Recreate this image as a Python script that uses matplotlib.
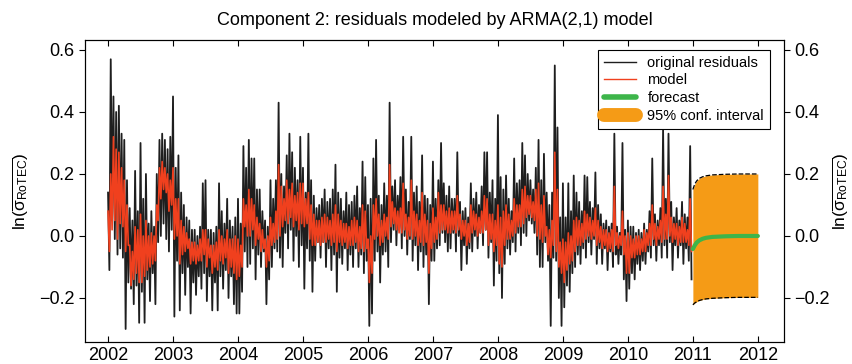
import numpy as np
import matplotlib.pyplot as plt
from matplotlib.lines import Line2D

plt.rcParams['font.family'] = ['Liberation Sans', 'DejaVu Sans']
plt.rcParams['mathtext.fontset'] = 'custom'
plt.rcParams['mathtext.rm'] = 'Liberation Sans'
plt.rcParams['mathtext.it'] = 'Liberation Sans'

# ── residuals (black) and ARMA(2,1) model (red), 4 samples per month ──
res_2002 = [0.14, -0.11, 0.57, 0.05, 0.45, -0.01, 0.40, -0.06, 0.42, -0.04, 0.33, -0.07,
            0.31, -0.30, 0.18, -0.15, 0.09, -0.17, 0.05, -0.22, 0.21, -0.16, 0.08, -0.28,
            0.30, -0.18, 0.12, -0.28, 0.20, -0.14, 0.04, -0.21, 0.08, -0.12, 0.03, -0.22,
            0.20, -0.02, 0.31, 0.00, 0.33, 0.04, 0.31, -0.01, 0.28, -0.05, 0.32, 0.02]
res_2003 = [0.45, -0.26, 0.22, -0.08, 0.26, -0.24, 0.14, -0.12, 0.10, -0.19, 0.06, -0.10,
            0.05, -0.25, 0.02, -0.15, 0.02, -0.19, 0.00, -0.13, 0.03, -0.17, 0.17, -0.12,
            0.18, -0.21, 0.02, -0.13, 0.02, -0.24, 0.01, -0.15, 0.03, -0.24, 0.17, -0.13,
            0.08, -0.17, 0.04, -0.11, 0.12, -0.20, 0.05, -0.13, 0.03, -0.22, 0.06, -0.25]
res_2004 = [0.12, -0.25, 0.04, -0.18, 0.29, -0.05, 0.22, -0.10, 0.31, -0.09, 0.25, -0.04,
            0.25, -0.14, 0.15, -0.06, 0.15, -0.10, 0.08, -0.05, 0.05, -0.22, 0.03, -0.14,
            0.18, -0.10, 0.12, -0.04, 0.18, -0.05, 0.43, -0.07, 0.20, -0.10, 0.16, 0.01,
            0.26, -0.04, 0.33, 0.02, 0.27, -0.08, 0.22, 0.00, 0.18, -0.10, 0.32, -0.03]
res_2005 = [0.22, -0.17, 0.14, -0.04, 0.33, -0.08, 0.18, -0.18, 0.13, -0.08, 0.09, -0.02,
            0.10, -0.07, 0.12, -0.02, 0.15, -0.10, 0.11, -0.04, 0.12, -0.11, 0.15, -0.06,
            0.23, -0.18, 0.14, -0.07, 0.12, -0.09, 0.08, -0.04, 0.14, -0.11, 0.10, -0.06,
            0.11, -0.10, 0.13, -0.04, 0.16, -0.10, 0.09, -0.06, 0.24, -0.12, 0.19, -0.08]
res_2006 = [0.10, -0.29, 0.12, -0.25, 0.25, -0.08, 0.31, -0.05, 0.13, -0.15, 0.10, -0.06,
            0.17, -0.05, 0.13, -0.10, 0.43, -0.02, 0.16, 0.02, 0.18, -0.03, 0.13, 0.02,
            0.19, -0.04, 0.32, 0.00, 0.15, -0.06, 0.11, -0.01, 0.32, -0.08, 0.14, -0.03,
            0.16, -0.11, 0.11, -0.05, 0.26, -0.10, 0.13, -0.06, 0.12, -0.22, 0.10, -0.08]
res_2007 = [0.24, -0.08, 0.12, -0.04, 0.18, -0.03, 0.30, 0.01, 0.17, -0.02, 0.13, -0.05,
            0.16, -0.04, 0.12, 0.01, 0.12, -0.05, 0.27, 0.00, 0.11, -0.11, 0.08, -0.03,
            0.09, -0.09, 0.06, -0.04, 0.17, -0.05, 0.12, 0.00, 0.14, -0.04, 0.10, 0.01,
            0.16, -0.03, 0.27, 0.02, 0.27, -0.07, 0.14, -0.02, 0.18, -0.16, 0.12, -0.08]
res_2008 = [0.39, -0.12, 0.19, -0.20, 0.15, -0.09, 0.195, -0.04, 0.12, -0.06, 0.08, -0.02,
            0.25, -0.05, 0.17, 0.01, 0.18, -0.03, 0.30, 0.01, 0.26, 0.00, 0.20, 0.05,
            0.18, 0.04, 0.15, 0.01, 0.22, -0.06, 0.31, -0.10, 0.18, -0.10, 0.265, -0.02,
            0.14, -0.08, 0.10, -0.29, 0.14, -0.07, 0.55, -0.08, 0.35, -0.20, 0.06, -0.29]
res_2009 = [0.17, -0.23, 0.06, -0.16, 0.17, -0.18, 0.08, -0.12, 0.195, -0.10, 0.14, -0.06,
            0.11, -0.09, 0.08, -0.04, 0.195, -0.07, 0.19, -0.02, 0.11, -0.06, 0.09, -0.01,
            0.205, -0.09, 0.10, -0.04, 0.07, -0.09, 0.04, -0.04, 0.05, -0.11, 0.03, -0.05,
            0.04, -0.10, 0.33, -0.06, 0.03, -0.09, 0.01, -0.06, 0.30, -0.14, 0.02, -0.21]
res_2010 = [0.05, -0.17, 0.03, -0.12, 0.03, -0.14, 0.01, -0.09, 0.02, -0.11, 0.01, -0.08,
            0.04, -0.09, 0.02, -0.05, 0.08, -0.07, 0.25, -0.03, 0.07, -0.08, 0.05, -0.03,
            0.09, -0.07, 0.345, -0.03, 0.12, -0.07, 0.33, -0.02, 0.11, -0.11, 0.06, -0.03,
            0.09, -0.07, 0.05, -0.03, 0.11, -0.09, 0.07, -0.04, 0.06, -0.08, 0.29, -0.14]

mod_2002 = [0.08, -0.05, 0.20, 0.02, 0.32, 0.05, 0.28, -0.01, 0.27, 0.04, 0.22, 0.03,
            0.18, -0.05, 0.10, -0.03, -0.03, -0.16, -0.05, -0.14, 0.03, -0.12, 0.02, -0.15,
            0.07, -0.15, 0.00, -0.13, 0.05, -0.11, 0.00, -0.10, 0.01, -0.09, 0.00, -0.08,
            0.10, 0.05, 0.22, 0.12, 0.24, 0.15, 0.22, 0.14, 0.20, 0.08, 0.18, 0.10]
mod_2003 = [0.22, -0.01, 0.12, 0.00, 0.12, -0.09, 0.05, -0.06, 0.03, -0.05, 0.01, -0.04,
            -0.01, -0.09, -0.02, -0.08, -0.02, -0.09, -0.03, -0.08, -0.01, -0.08, 0.02, -0.06,
            0.02, -0.10, -0.01, -0.07, -0.03, -0.12, -0.03, -0.10, -0.02, -0.11, 0.02, -0.08,
            0.00, -0.09, -0.01, -0.07, 0.02, -0.12, -0.01, -0.10, -0.01, -0.12, 0.00, -0.14]
mod_2004 = [-0.01, -0.13, -0.03, -0.10, 0.12, 0.03, 0.10, 0.00, 0.15, 0.00, 0.12, 0.02,
            0.10, -0.03, 0.06, -0.01, 0.04, -0.05, 0.02, -0.04, -0.01, -0.10, 0.00, -0.08,
            0.06, -0.03, 0.04, -0.02, 0.08, -0.01, 0.23, 0.00, 0.16, 0.03, 0.12, 0.05,
            0.18, 0.04, 0.15, 0.06, 0.17, 0.03, 0.13, 0.05, 0.14, 0.02, 0.17, 0.04]
mod_2005 = [0.17, 0.03, 0.12, 0.04, 0.14, -0.01, 0.10, -0.03, 0.07, -0.03, 0.05, -0.02,
            0.05, -0.03, 0.06, -0.02, 0.07, -0.02, 0.06, -0.01, 0.05, -0.03, 0.07, -0.02,
            0.10, -0.05, 0.07, -0.02, 0.05, -0.03, 0.04, -0.02, 0.04, -0.04, 0.03, -0.03,
            0.05, -0.03, 0.06, -0.02, 0.05, -0.05, 0.03, -0.04, 0.10, -0.05, 0.08, -0.04]
mod_2006 = [-0.01, -0.15, 0.00, -0.12, 0.10, -0.01, 0.12, 0.00, 0.07, -0.03, 0.05, -0.02,
            0.07, 0.00, 0.06, -0.01, 0.23, 0.03, 0.11, 0.04, 0.09, 0.02, 0.08, 0.01,
            0.09, 0.01, 0.17, 0.02, 0.07, -0.01, 0.06, 0.00, 0.18, -0.01, 0.08, 0.00,
            0.07, -0.03, 0.05, -0.02, 0.14, -0.03, 0.07, -0.02, 0.05, -0.12, 0.04, -0.04]
mod_2007 = [0.09, -0.02, 0.06, -0.01, 0.14, 0.01, 0.10, 0.02, 0.10, 0.02, 0.08, 0.01,
            0.09, 0.01, 0.08, 0.02, 0.08, 0.01, 0.13, 0.02, 0.07, -0.01, 0.05, 0.00,
            0.05, -0.03, 0.04, -0.02, 0.10, 0.01, 0.08, 0.02, 0.07, 0.00, 0.06, 0.01,
            0.08, 0.01, 0.13, 0.02, 0.12, -0.03, 0.07, -0.01, 0.07, -0.05, 0.05, -0.03]
mod_2008 = [0.10, -0.09, 0.06, -0.10, 0.08, -0.03, 0.10, -0.01, 0.07, -0.01, 0.05, 0.00,
            0.12, 0.01, 0.10, 0.03, 0.10, 0.03, 0.15, 0.04, 0.16, 0.06, 0.13, 0.07,
            0.13, 0.06, 0.11, 0.05, 0.15, 0.00, 0.17, -0.01, 0.10, -0.02, 0.13, 0.00,
            0.03, -0.06, 0.02, -0.07, 0.05, -0.03, 0.27, -0.05, 0.15, -0.10, -0.02, -0.12]
mod_2009 = [-0.01, -0.15, -0.02, -0.11, 0.01, -0.09, 0.00, -0.08, 0.05, -0.05, 0.06, -0.03,
            0.05, -0.03, 0.04, -0.02, 0.08, -0.01, 0.07, 0.00, 0.06, -0.01, 0.05, 0.00,
            0.09, -0.03, 0.05, -0.02, 0.03, -0.04, 0.02, -0.03, 0.02, -0.05, 0.01, -0.04,
            0.02, -0.05, 0.16, -0.03, 0.01, -0.04, 0.00, -0.03, 0.08, -0.06, 0.00, -0.12]
mod_2010 = [0.01, -0.12, 0.00, -0.07, -0.01, -0.07, 0.00, -0.06, 0.00, -0.06, -0.01, -0.05,
            0.02, -0.05, 0.01, -0.03, 0.04, -0.03, 0.10, -0.01, 0.04, -0.03, 0.03, -0.01,
            0.05, -0.02, 0.16, -0.01, 0.07, -0.01, 0.195, 0.00, 0.06, -0.02, 0.04, -0.01,
            0.04, -0.03, 0.03, -0.02, 0.06, -0.02, 0.04, -0.02, 0.02, -0.03, 0.12, -0.05]

# ── forecast for 2011 ──
fc_years = [2011.0, 2011.03, 2011.06, 2011.1, 2011.15, 2011.2, 2011.3, 2011.4, 2011.5, 2011.7, 2012.0]
fc_mean = [-0.042, -0.030, -0.021, -0.014, -0.009, -0.006, -0.003, -0.002, -0.001, 0.0, 0.0]
fc_upper = [0.150, 0.168, 0.178, 0.186, 0.191, 0.194, 0.197, 0.198, 0.199, 0.200, 0.200]
fc_lower = [-0.222, -0.216, -0.212, -0.208, -0.205, -0.203, -0.201, -0.200, -0.199, -0.198, -0.198]

year_ticks = list(range(2002, 2013))
y_ticks = [-0.2, 0.0, 0.2, 0.4, 0.6]
y_labels = ['\u22120.2', '0.0', '0.2', '0.4', '0.6']

residuals = np.concatenate([res_2002, res_2003, res_2004, res_2005, res_2006,
                            res_2007, res_2008, res_2009, res_2010])
model = np.concatenate([mod_2002, mod_2003, mod_2004, mod_2005, mod_2006,
                        mod_2007, mod_2008, mod_2009, mod_2010])
t = 2002 + np.arange(len(residuals)) / 48

c_black, c_red, c_green, c_orange = '#1e1e1e', '#f0401e', '#3db54a', '#f59b16'

fig, ax = plt.subplots(figsize=(8.52, 3.64), dpi=100)
fig.subplots_adjust(left=0.0998, right=0.920, bottom=0.0604, top=0.890)

ax.plot(t, residuals, color=c_black, lw=1.3)
ax.plot(t, model, color=c_red, lw=1.2)
ax.fill_between(fc_years, fc_lower, fc_upper, color=c_orange, lw=0)
ax.plot(fc_years, fc_upper, color='k', ls='--', lw=0.9)
ax.plot(fc_years, fc_lower, color='k', ls='--', lw=0.9)
ax.plot(fc_years, fc_mean, color=c_green, lw=3, solid_capstyle='round')

ax.set_xlim(2001.646, 2012.4)
ax.set_ylim(-0.342, 0.632)
ax.set_xticks(year_ticks)
ax.set_xticklabels([str(y) for y in year_ticks])
ax.set_yticks(y_ticks)
ax.set_yticklabels(y_labels)
ax.tick_params(axis='x', direction='in', top=True, length=4, labelsize=13)
ax.tick_params(axis='y', direction='out', length=4, labelsize=13)

ylab = r'ln($\overline{\mathrm{\sigma}_{\mathrm{RoTEC}}}$)'
ax.set_ylabel(ylab, fontsize=12.5, labelpad=6)
ax2 = ax.twinx()
ax2.set_ylim(ax.get_ylim())
ax2.set_yticks(y_ticks)
ax2.set_yticklabels(y_labels)
ax2.tick_params(axis='y', direction='out', length=4, labelsize=13)
ax2.set_ylabel(ylab, fontsize=12.5, labelpad=1)

ax.set_title('Component 2: residuals modeled by ARMA(2,1) model', fontsize=13, pad=11)

handles = [Line2D([], [], color=c_black, lw=1),
           Line2D([], [], color=c_red, lw=1),
           Line2D([], [], color=c_green, lw=4, solid_capstyle='round'),
           Line2D([], [], color=c_orange, lw=10, solid_capstyle='round')]
labels = ['original residuals', 'model', 'forecast', '95% conf. interval']
leg = ax.legend(handles, labels, loc='upper right', bbox_to_anchor=(0.98, 0.967),
                borderaxespad=0, fontsize=10.5, fancybox=False, framealpha=1,
                edgecolor='k', labelspacing=0.25, handlelength=2.2)
leg.get_frame().set_linewidth(0.8)

plt.savefig('out.png', dpi=100)
